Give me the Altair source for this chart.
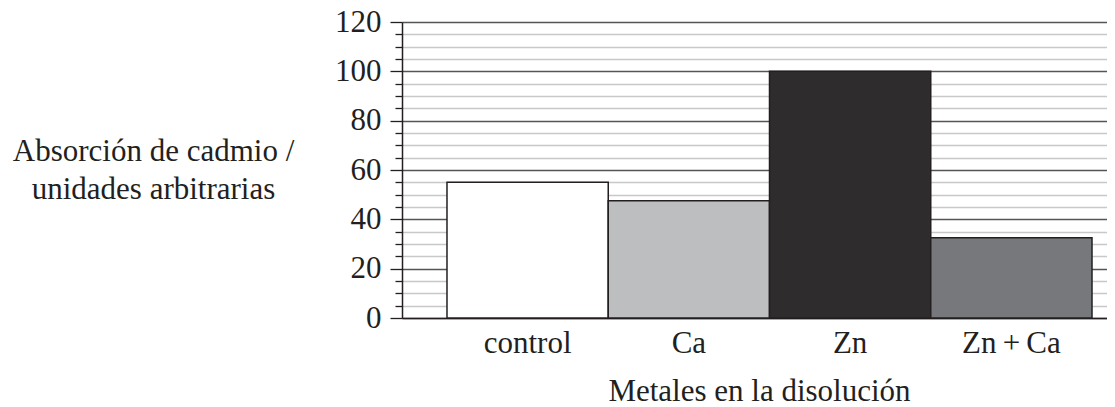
import altair as alt
import pandas as pd

categories = ["control", "Ca", "Zn", "Zn\u2009+\u2009Ca"]
absorption = [55, 47.5, 100, 32.5]
bar_colors = ["#ffffff", "#bcbec0", "#2e2c2d", "#77787b"]
y_ticks = list(range(0, 121, 5))

df = pd.DataFrame({"metal": categories, "value": absorption})

FONT = "Liberation Serif, 'Times New Roman', Times, 'DejaVu Serif', serif"
INK = "#231f20"
W, H = 705, 296

bars = alt.Chart(df).mark_bar(stroke=INK, strokeWidth=1.5).encode(
    x=alt.X(
        "metal:N",
        sort=categories,
        scale=alt.Scale(paddingInner=0, paddingOuter=0.186, align=0.75),
        axis=alt.Axis(
            title="Metales en la disolución",
            titleFont=FONT, titleFontSize=31, titleFontWeight="normal", titleColor=INK,
            titleAlign="center", titleBaseline="alphabetic", titleX=357, titleY=82,
            labelFont=FONT, labelFontSize=31, labelColor=INK, labelAngle=0,
            labelPadding=10, labelBaseline="top",
            ticks=False, tickSize=0, domainColor=INK, domainWidth=1.5, grid=False,
        ),
    ),
    y=alt.Y(
        "value:Q",
        scale=alt.Scale(domain=[0, 120], nice=False),
        axis=alt.Axis(
            values=y_ticks,
            title=["Absorción de cadmio /", "unidades arbitrarias"],
            titleFont=FONT, titleFontSize=31, titleFontWeight="normal", titleColor=INK,
            titleAngle=0, titleAlign="center", titleBaseline="alphabetic",
            titleX=-249, titleY=138, titleLineHeight=38,
            labelFont=FONT, labelFontSize=31, labelColor=INK,
            labelExpr="datum.value % 20 === 0 ? datum.label : ''",
            labelOverlap=False, labelFlush=False, labelPadding=9,
            tickColor=INK, tickWidth=1.3,
            tickSize={"condition": {"test": "datum.value % 20 === 0", "value": 12}, "value": 7},
            domainColor=INK, domainWidth=1.5,
            grid=True,
            gridColor={"condition": {"test": "datum.value % 20 === 0", "value": "#555555"}, "value": "#c8c8c8"},
            gridWidth={"condition": {"test": "datum.value % 20 === 0", "value": 1.3}, "value": 1.5},
        ),
    ),
    color=alt.Color("metal:N", scale=alt.Scale(domain=categories, range=bar_colors), legend=None),
)

chart = bars.properties(
    width=W,
    height=H,
    autosize=alt.AutoSizeParams(type="none"),
    padding={"left": 394, "top": 14, "right": 0, "bottom": 90},
).configure_view(stroke=None).configure(background="white")

chart.save("out.html", embed_options={"renderer": "svg", "actions": False})
